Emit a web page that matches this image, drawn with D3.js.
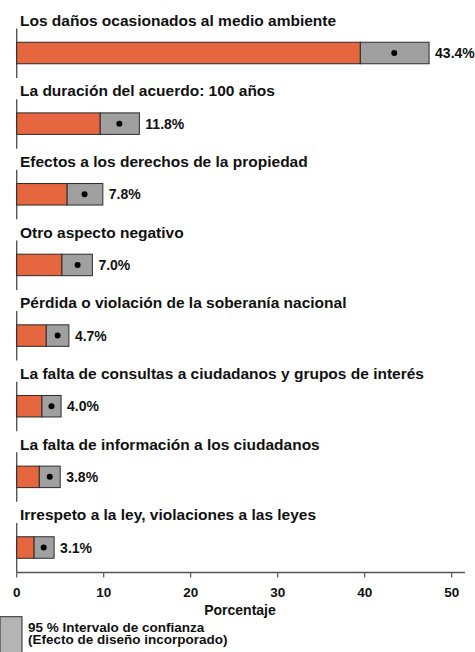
<!DOCTYPE html>
<html>
<head>
<meta charset="utf-8">
<script src="https://cdn.jsdelivr.net/npm/d3@7"></script>
<style>
  body { margin: 0; background: #fff; }
  svg { display: block; font-family: "Liberation Sans", Arial, sans-serif; font-weight: bold; }
</style>
</head>
<body>
<svg id="chart" width="475" height="652"></svg>
<script>
// --- data ---
const categories = [
    "Los daños ocasionados al medio ambiente",
    "La duración del acuerdo: 100 años",
    "Efectos a los derechos de la propiedad",
    "Otro aspecto negativo",
    "Pérdida o violación de la soberanía nacional",
    "La falta de consultas a ciudadanos y grupos de interés",
    "La falta de información a los ciudadanos",
    "Irrespeto a la ley, violaciones a las leyes"
];
const estimates = [43.4, 11.8, 7.8, 7.0, 4.7, 4.0, 3.8, 3.1];
const lowerCI = [39.5, 9.6, 5.8, 5.2, 3.4, 2.9, 2.6, 2.0];
const upperCI = [47.4, 14.1, 9.9, 8.7, 6.0, 5.1, 5.0, 4.3];
const xTicks = [0, 10, 20, 30, 40, 50];

const ORANGE = '#e6663f', GRAY = '#a0a0a0', LEGEND_GRAY = '#b4b4b4', STROKE = '#2b2b2b', AXIS = '#555';
const BAR_H = 21.5, AXIS_Y = 572.5;

const rows = categories.map((c, i) => ({ cat: c, est: estimates[i], lo: lowerCI[i], hi: upperCI[i] }));

const svg = d3.select('#chart');
const x = d3.scaleLinear().domain([0, 50]).range([16.7, 451.7]);
const y = d3.scalePoint().domain(categories).range([53, 547.5]);

// y axis pieces (broken around the labels)
svg.selectAll('.yseg').data(rows).enter().append('line')
    .attr('x1', x(0)).attr('x2', x(0))
    .attr('y1', d => y(d.cat) - 24.5)
    .attr('y2', (d, i) => i === rows.length - 1 ? AXIS_Y : y(d.cat) + 25)
    .attr('stroke', AXIS).attr('stroke-width', 1.4);

// x axis
svg.append('line').attr('x1', x(0)).attr('x2', 465).attr('y1', AXIS_Y).attr('y2', AXIS_Y)
    .attr('stroke', AXIS).attr('stroke-width', 1.4);
svg.selectAll('.tick').data(xTicks).enter().append('line')
    .attr('x1', d => x(d)).attr('x2', d => x(d))
    .attr('y1', AXIS_Y).attr('y2', AXIS_Y + 5)
    .attr('stroke', AXIS).attr('stroke-width', 1.2);
svg.selectAll('.tlabel').data(xTicks).enter().append('text')
    .attr('x', d => x(d)).attr('y', 597)
    .attr('text-anchor', 'middle').attr('font-size', 13.5).attr('fill', '#111')
    .text(d => d);
svg.append('text').attr('x', 240).attr('y', 614.5).attr('text-anchor', 'middle')
    .attr('font-size', 14).attr('fill', '#111').text('Porcentaje');

// rows
const g = svg.selectAll('.row').data(rows).enter().append('g');

g.append('text')
    .attr('x', 20).attr('y', d => y(d.cat) - 27.3)
    .attr('font-size', 15.5).attr('fill', '#111')
    .text(d => d.cat);

g.append('rect')
    .attr('x', x(0)).attr('y', d => y(d.cat) - BAR_H / 2)
    .attr('width', d => x(d.lo) - x(0)).attr('height', BAR_H)
    .attr('fill', ORANGE).attr('stroke', STROKE).attr('stroke-width', 1);

g.append('rect')
    .attr('x', d => x(d.lo)).attr('y', d => y(d.cat) - BAR_H / 2)
    .attr('width', d => x(d.hi) - x(d.lo)).attr('height', BAR_H)
    .attr('fill', GRAY).attr('stroke', STROKE).attr('stroke-width', 1);

g.append('circle')
    .attr('cx', d => x(d.est)).attr('cy', d => y(d.cat))
    .attr('r', 3).attr('fill', '#000');

g.append('text')
    .attr('x', d => x(d.hi) + 6).attr('y', d => y(d.cat) + 5)
    .attr('font-size', 14).attr('fill', '#111')
    .text(d => d.est.toFixed(1) + '%');

// legend
svg.append('rect').attr('x', 0).attr('y', 616.7).attr('width', 22).attr('height', 40)
    .attr('fill', LEGEND_GRAY).attr('stroke', STROKE).attr('stroke-width', 1);
const leg = svg.append('text').attr('font-size', 13.5).attr('fill', '#111');
leg.append('tspan').attr('x', 28).attr('y', 632).text('95 % Intervalo de confianza');
leg.append('tspan').attr('x', 28).attr('y', 644).text('(Efecto de diseño incorporado)');
</script>
</body>
</html>
